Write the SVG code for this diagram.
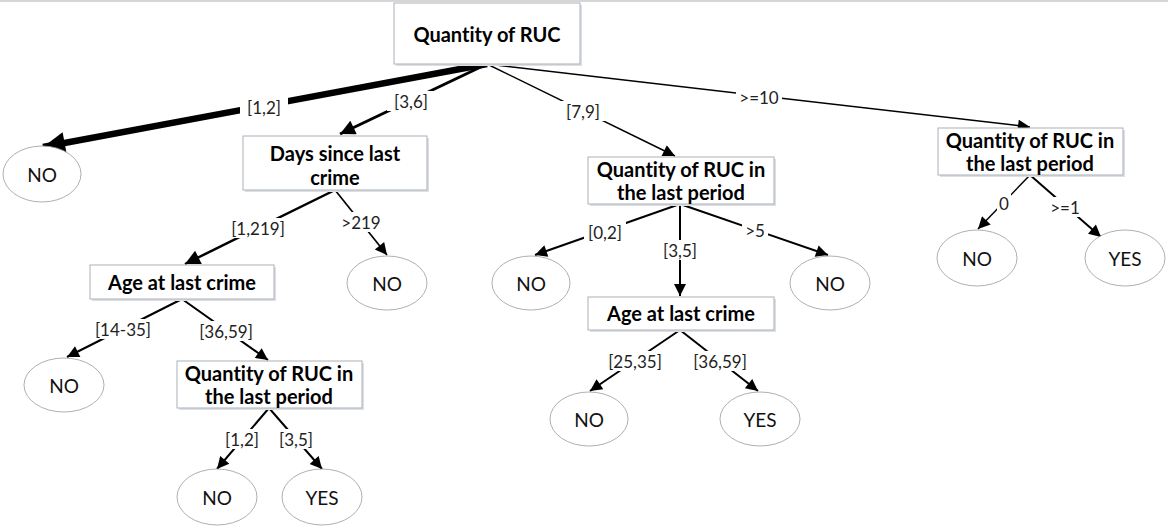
<svg xmlns="http://www.w3.org/2000/svg" width="1168" height="530" viewBox="0 0 1168 530">
<defs>
<marker id="ah" viewBox="0 0 10 10" refX="10" refY="5" markerWidth="14" markerHeight="12" markerUnits="userSpaceOnUse" orient="auto"><path d="M0,0 L10,5 L0,10 z" fill="#000"/></marker>
<marker id="ahb" viewBox="0 0 10 10" refX="10" refY="5" markerWidth="26" markerHeight="22" markerUnits="userSpaceOnUse" orient="auto"><path d="M0,0 L10,5 L0,10 z" fill="#000"/></marker>
<marker id="ahm" viewBox="0 0 10 10" refX="10" refY="5" markerWidth="18" markerHeight="15" markerUnits="userSpaceOnUse" orient="auto"><path d="M0,0 L10,5 L0,10 z" fill="#000"/></marker>
</defs>
<style>
text{font-family:Lato,"Open Sans",sans-serif;font-variant-ligatures:none;text-anchor:middle;dominant-baseline:central}
.box{fill:#fff;stroke:#a9b1b9;stroke-width:1}
.sh{fill:#dde0e3}
.ell{fill:#fff;stroke:#9a9a9a;stroke-width:0.8}
.nt{font-weight:bold;font-size:20px;fill:#000}
.lt{font-size:19px;fill:#111}
.el{stroke:#000;fill:none}
.lb{fill:#fff}
.et{font-size:17px;fill:#222}
</style>
<rect width="1168" height="530" fill="#fff"/>
<line x1="0" y1="1" x2="1168" y2="1" stroke="#c8c8c8" stroke-width="1.5"/>

<g id="connectors">
<line class="el" x1="487" y1="64" x2="43" y2="147" stroke-width="6.5" marker-end="url(#ahb)"/>
<line class="el" x1="487" y1="64" x2="340" y2="134" stroke-width="3" marker-end="url(#ahm)"/>
<line class="el" x1="487" y1="64" x2="675" y2="156" stroke-width="1.5" marker-end="url(#ah)"/>
<line class="el" x1="487" y1="64" x2="1030" y2="127" stroke-width="1.5" marker-end="url(#ah)"/>
<line class="el" x1="335" y1="190" x2="185" y2="264" stroke-width="2.5" marker-end="url(#ahm)"/>
<line class="el" x1="335" y1="190" x2="387" y2="255" stroke-width="1.7" marker-end="url(#ah)"/>
<line class="el" x1="182" y1="299" x2="67" y2="357" stroke-width="2" marker-end="url(#ah)"/>
<line class="el" x1="182" y1="299" x2="268" y2="360" stroke-width="2" marker-end="url(#ah)"/>
<line class="el" x1="269" y1="408" x2="217" y2="469" stroke-width="2" marker-end="url(#ah)"/>
<line class="el" x1="269" y1="408" x2="322" y2="469" stroke-width="2" marker-end="url(#ah)"/>
<line class="el" x1="680" y1="204" x2="535" y2="255" stroke-width="2" marker-end="url(#ah)"/>
<line class="el" x1="680" y1="204" x2="680" y2="296" stroke-width="2" marker-end="url(#ah)"/>
<line class="el" x1="680" y1="204" x2="828" y2="255" stroke-width="2" marker-end="url(#ah)"/>
<line class="el" x1="680" y1="330" x2="590" y2="391" stroke-width="2" marker-end="url(#ah)"/>
<line class="el" x1="680" y1="330" x2="758" y2="391" stroke-width="2" marker-end="url(#ah)"/>
<line class="el" x1="1030" y1="175" x2="978" y2="229" stroke-width="1.5" marker-end="url(#ah)"/>
<line class="el" x1="1030" y1="175" x2="1101" y2="237" stroke-width="2" marker-end="url(#ah)"/>

<rect class="lb" x="240" y="97" width="48" height="20"/><text class="et" x="264" y="107">[1,2]</text>
<rect class="lb" x="387" y="91" width="48" height="20"/><text class="et" x="411" y="101">[3,6]</text>
<rect class="lb" x="559" y="101" width="48" height="20"/><text class="et" x="583" y="111">[7,9]</text>
<rect class="lb" x="736" y="88" width="46" height="18"/><text class="et" x="759" y="97">&gt;=10</text>
<rect class="lb" x="228" y="218" width="60" height="20"/><text class="et" x="258" y="228">[1,219]</text>
<rect class="lb" x="340" y="212" width="42" height="20"/><text class="et" x="361" y="222">&gt;219</text>
<rect class="lb" x="92" y="319" width="62" height="20"/><text class="et" x="123" y="329">[14-35]</text>
<rect class="lb" x="196" y="321" width="60" height="20"/><text class="et" x="226" y="331">[36,59]</text>
<rect class="lb" x="222" y="429" width="40" height="20"/><text class="et" x="242" y="439">[1,2]</text>
<rect class="lb" x="276" y="429" width="40" height="20"/><text class="et" x="296" y="439">[3,5]</text>
<rect class="lb" x="584" y="222" width="42" height="20"/><text class="et" x="605" y="232">[0,2]</text>
<rect class="lb" x="660" y="240" width="40" height="20"/><text class="et" x="680" y="250">[3,5]</text>
<rect class="lb" x="742" y="220" width="26" height="20"/><text class="et" x="755" y="230">&gt;5</text>
<rect class="lb" x="605" y="351" width="60" height="20"/><text class="et" x="635" y="361">[25,35]</text>
<rect class="lb" x="690" y="351" width="60" height="20"/><text class="et" x="720" y="361">[36,59]</text>
<rect class="lb" x="997" y="194" width="14" height="18"/><text class="et" x="1004" y="203">0</text>
<rect class="lb" x="1048" y="197" width="34" height="20"/><text class="et" x="1065" y="207">&gt;=1</text>
</g>

<g id="root">
<rect class="sh" x="396" y="5" width="186" height="61"/>
<rect class="box" x="394" y="3" width="186" height="61"/>
<text class="nt" x="487" y="34">Quantity of RUC</text>
</g>
<g id="no1">
<ellipse class="ell" cx="42" cy="174" rx="39" ry="28"/>
<text class="lt" x="42" y="174">NO</text>
</g>
<g id="days">
<rect class="sh" x="245" y="138" width="184" height="54"/>
<rect class="box" x="243" y="136" width="184" height="54"/>
<text class="nt" x="335" y="153">Days since last</text>
<text class="nt" x="335" y="177">crime</text>
</g>
<g id="qmid">
<rect class="sh" x="590" y="159" width="186" height="47"/>
<rect class="box" x="588" y="157" width="186" height="47"/>
<text class="nt" x="681" y="169">Quantity of RUC in</text>
<text class="nt" x="681" y="192">the last period</text>
</g>
<g id="qright">
<rect class="sh" x="940" y="130" width="185" height="47"/>
<rect class="box" x="938" y="128" width="185" height="47"/>
<text class="nt" x="1030" y="140">Quantity of RUC in</text>
<text class="nt" x="1030" y="163">the last period</text>
</g>
<g id="ageL">
<rect class="sh" x="92" y="267" width="184" height="34"/>
<rect class="box" x="90" y="265" width="184" height="34"/>
<text class="nt" x="182" y="282">Age at last crime</text>
</g>
<g id="no2">
<ellipse class="ell" cx="387" cy="283" rx="40" ry="27"/>
<text class="lt" x="387" y="283">NO</text>
</g>
<g id="no3">
<ellipse class="ell" cx="64" cy="385" rx="40" ry="27"/>
<text class="lt" x="64" y="385">NO</text>
</g>
<g id="qleft">
<rect class="sh" x="179" y="363" width="185" height="47"/>
<rect class="box" x="177" y="361" width="185" height="47"/>
<text class="nt" x="269" y="373">Quantity of RUC in</text>
<text class="nt" x="269" y="396">the last period</text>
</g>
<g id="no4">
<ellipse class="ell" cx="217" cy="497" rx="40" ry="28"/>
<text class="lt" x="217" y="497">NO</text>
</g>
<g id="yes1">
<ellipse class="ell" cx="322" cy="497" rx="40" ry="28"/>
<text class="lt" x="322" y="497">YES</text>
</g>
<g id="no5">
<ellipse class="ell" cx="531" cy="283" rx="39" ry="27"/>
<text class="lt" x="531" y="283">NO</text>
</g>
<g id="no6">
<ellipse class="ell" cx="830" cy="283" rx="40" ry="27"/>
<text class="lt" x="830" y="283">NO</text>
</g>
<g id="ageM">
<rect class="sh" x="590" y="299" width="186" height="33"/>
<rect class="box" x="588" y="297" width="186" height="33"/>
<text class="nt" x="681" y="313">Age at last crime</text>
</g>
<g id="no7">
<ellipse class="ell" cx="589" cy="419" rx="39" ry="27"/>
<text class="lt" x="589" y="419">NO</text>
</g>
<g id="yes2">
<ellipse class="ell" cx="760" cy="419" rx="40" ry="27"/>
<text class="lt" x="760" y="419">YES</text>
</g>
<g id="no8">
<ellipse class="ell" cx="977" cy="258" rx="40" ry="28"/>
<text class="lt" x="977" y="258">NO</text>
</g>
<g id="yes3">
<ellipse class="ell" cx="1125" cy="258" rx="40" ry="28"/>
<text class="lt" x="1125" y="258">YES</text>
</g>
</svg>
